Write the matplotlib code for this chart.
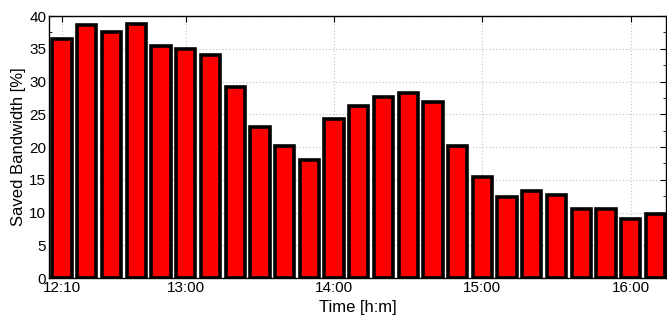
import matplotlib.pyplot as plt
from matplotlib.ticker import MultipleLocator

# minutes after 12:10, one bar every 10 minutes
minutes = list(range(0, 250, 10))
saved = [36.5, 38.7, 37.6, 38.8, 35.4, 34.9, 34.0, 29.2, 23.1, 20.1, 18.0, 24.2,
         26.2, 27.7, 28.2, 26.8, 20.1, 15.4, 12.4, 13.3, 12.6, 10.5, 10.5, 9.0, 9.7]
tick_pos = [0, 50, 110, 170, 230]
tick_labels = ['12:10', '13:00', '14:00', '15:00', '16:00']

plt.rcParams['font.family'] = ['Liberation Sans', 'DejaVu Sans']

fig = plt.figure(figsize=(6.67, 3.22), dpi=100)
ax = fig.add_axes([0.0735, 0.1366, 0.925, 0.8137])

ax.bar(minutes, saved, width=7.8, color='#ff0000', edgecolor='black',
       linewidth=2.6, zorder=3)

ax.set_xlim(-5.3, 244.3)
ax.set_ylim(0, 40)
ax.set_xticks(tick_pos)
ax.set_xticklabels(tick_labels)
ax.yaxis.set_major_locator(MultipleLocator(5))
ax.yaxis.set_minor_locator(MultipleLocator(2.5))
ax.tick_params(which='both', direction='in', top=True, right=True,
               labelsize=11, pad=2)
ax.tick_params(which='major', length=4)
ax.tick_params(which='minor', length=2)
ax.grid(True, linestyle=(0, (1, 2)), color='#c0c0c0', linewidth=0.8, zorder=0)
for s in ax.spines.values():
    s.set_linewidth(1.0)

ax.set_xlabel('Time [h:m]', fontsize=12, labelpad=4)
ax.set_ylabel('Saved Bandwidth [%]', fontsize=12, labelpad=2)

fig.savefig('out.png', dpi=100)
